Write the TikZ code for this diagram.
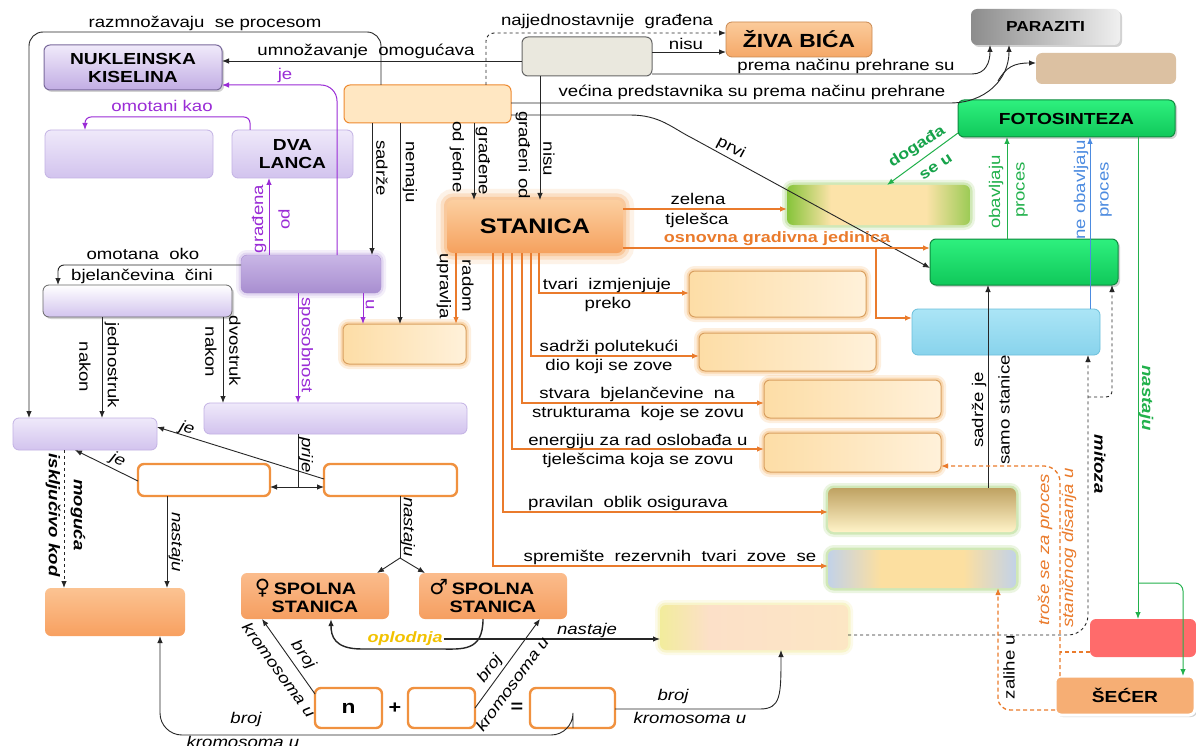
\documentclass[tikz,border=0pt]{standalone}
\usepackage{fontspec}
\setmainfont{Liberation Sans}[FakeStretch=1.2]
\newfontfamily\symfont{DejaVu Sans}
\usetikzlibrary{arrows.meta,shadows}
% connector and text colours
\definecolor{cOra}{HTML}{EA7B2C}
\definecolor{cPur}{HTML}{9A2CD6}
\definecolor{cGrn}{HTML}{22B14C}
\definecolor{cGrnD}{HTML}{16A34A}
\definecolor{cBlu}{HTML}{4C8BE0}
\definecolor{cYel}{HTML}{F2C200}
% box colours
\definecolor{nukT}{HTML}{F0EAFA}
\definecolor{nukD}{HTML}{C2ADE4}
\definecolor{nukB}{HTML}{7A6A9C}
\definecolor{pTop}{HTML}{EFE9FA}
\definecolor{pBot}{HTML}{D2C3EE}
\definecolor{pBrd}{HTML}{C3B2E4}
\definecolor{pdT}{HTML}{C9B6E6}
\definecolor{pdB}{HTML}{A88ED0}
\definecolor{topF}{HTML}{EAE8DE}
\definecolor{zivT}{HTML}{FBCB9B}
\definecolor{zivB}{HTML}{F5A868}
\definecolor{zivD}{HTML}{C98850}
\definecolor{tanF}{HTML}{DCC1A2}
\definecolor{c6F}{HTML}{FFE7C2}
\definecolor{c6B}{HTML}{EE8A30}
\definecolor{fotT}{HTML}{2EF07E}
\definecolor{fotB}{HTML}{10C85A}
\definecolor{fotD}{HTML}{0E8A3E}
\definecolor{chlL}{HTML}{86C43A}
\definecolor{chlM}{HTML}{FCE3A9}
\definecolor{chlR}{HTML}{9CCB55}
\definecolor{stT}{HTML}{FCCFA0}
\definecolor{stB}{HTML}{F5A15E}
\definecolor{stG}{HTML}{F6A861}
\definecolor{bluT}{HTML}{ABE5F6}
\definecolor{bluB}{HTML}{88D3EC}
\definecolor{bluD}{HTML}{6ABFDB}
\definecolor{bgL}{HTML}{FDDDA6}
\definecolor{bgR}{HTML}{FFF1DA}
\definecolor{bgB}{HTML}{D9A060}
\definecolor{bgG}{HTML}{F6B86E}
\definecolor{b21T}{HTML}{BFA262}
\definecolor{b21B}{HTML}{FFF3C8}
\definecolor{b22S}{HTML}{C2D2E8}
\definecolor{b22M}{HTML}{FCDFA0}
\definecolor{grG}{HTML}{A8D67A}
\definecolor{wbB}{HTML}{F0913F}
\definecolor{o27T}{HTML}{FBC392}
\definecolor{o27B}{HTML}{F8A060}
\definecolor{spT}{HTML}{FBBC8C}
\definecolor{spB}{HTML}{F59E60}
\definecolor{y30L}{HTML}{F2EC9C}
\definecolor{y30M}{HTML}{FCE0C8}
\definecolor{y30R}{HTML}{FCE6C4}
\definecolor{redF}{HTML}{FF6B6B}
\definecolor{secF}{HTML}{F6AE74}
% side-to-side fills (the visible part of a TikZ shading is 25bp..75bp)
\pgfdeclarehorizontalshading{chlsh}{100bp}{color(0bp)=(chlL); color(25bp)=(chlL); color(37bp)=(chlM); color(63bp)=(chlM); color(75bp)=(chlR); color(100bp)=(chlR)}
\pgfdeclarehorizontalshading{b22sh}{100bp}{color(0bp)=(b22S); color(25bp)=(b22S); color(39bp)=(b22M); color(61bp)=(b22M); color(75bp)=(b22S); color(100bp)=(b22S)}
\pgfdeclarehorizontalshading{y30sh}{100bp}{color(0bp)=(y30L); color(25bp)=(y30L); color(38bp)=(y30M); color(75bp)=(y30R); color(100bp)=(y30R)}
% a box given by its corners: name, x1, y1, x2, y2, style, text
\newcommand\bx[7]{\node[box,#6,minimum width={(#4-#2)*1pt},minimum height={(#5-#3)*1pt}] (#1) at ({(#2+#4)/2},{(#3+#5)/2}) {#7};}
\begin{document}
\begin{tikzpicture}[x=1pt,y=-1pt,
  box/.style={rounded corners=6pt, inner sep=0pt, outer sep=0pt, align=center},
  title/.style={font=\bfseries\fontsize{16}{18}\selectfont},
  lab/.style={font=\fontsize{15.5}{16}\selectfont, inner sep=0.5pt},
  ilab/.style={font=\fontsize{15.5}{16}\selectfont\itshape, inner sep=0.5pt},
  blab/.style={font=\fontsize{15.5}{16}\selectfont\bfseries\itshape, inner sep=0.5pt},
  arr/.style={-{Latex[length=7pt,width=5.5pt]}},
  kb/.style={draw=black!85, line width=0.9pt},
  oa/.style={draw=cOra, line width=1.3pt},
  pa/.style={draw=cPur, line width=1pt, arr},
  ga/.style={draw=cGrn, line width=1pt},
  ba/.style={draw=cBlu, line width=1pt},
  odash/.style={dash pattern=on 4pt off 3pt},
  glow/.style={preaction={draw=#1, draw opacity=0.22, line width=10pt},
               preaction={draw=#1, draw opacity=0.4, line width=5pt}},
  bigglow/.style={preaction={draw=#1, draw opacity=0.15, line width=22pt},
               preaction={draw=#1, draw opacity=0.25, line width=13pt},
               preaction={draw=#1, draw opacity=0.4, line width=6pt}},
  pl/.style={top color=pTop, bottom color=pBot, draw=pBrd, line width=0.8pt},
  bg/.style={left color=bgL, right color=bgR, draw=bgB, line width=1pt, glow=bgG},
  wb/.style={fill=white, draw=wbB, line width=2.4pt},
  sp/.style={top color=spT, bottom color=spB, font=\bfseries\fontsize{16.5}{18}\selectfont},
  shd/.style={drop shadow={opacity=0.35, shadow xshift=2pt, shadow yshift=-2pt}}
]
\fill[white] (0,0) rectangle (1196,746);
\useasboundingbox (0,0) rectangle (1196,746);

% ---------- boxes ----------
\bx{nuk}{44}{45}{222}{90}{top color=nukT, bottom color=nukD, draw=nukB, line width=1pt, shd, title}{NUKLEINSKA\\KISELINA}
\bx{top}{522}{37}{652}{76}{fill=topF, draw=black!60, line width=1pt}{}
\bx{ziva}{726}{22}{872}{57}{top color=zivT, bottom color=zivB, draw=zivD, line width=0.8pt, font=\bfseries\fontsize{19}{20}\selectfont}{ŽIVA BIĆA}
\bx{paraz}{971}{9}{1120}{45}{left color=black!45, right color=black!6, shd, font=\bfseries\fontsize{14.5}{16}\selectfont}{PARAZITI}
\bx{tan}{1036}{53}{1176}{84}{fill=tanF}{}
\bx{c6}{344}{85}{511}{123}{fill=c6F, draw=c6B, line width=1pt}{}
\bx{foto}{958}{100}{1175}{137}{top color=fotT, bottom color=fotB, draw=fotD, line width=1pt, shd, title}{FOTOSINTEZA}
\bx{p8}{45}{130}{213}{178}{pl}{}
\bx{dva}{232}{130}{353}{178}{pl, title}{DVA\\LANCA}
\bx{chl}{787}{185}{970}{225}{shading=chlsh, glow=grG}{}
\bx{stan}{447}{200}{623}{253}{top color=stT, bottom color=stB, bigglow=stG, font=\bfseries\fontsize{21}{22}\selectfont}{STANICA}
\bx{grn}{930}{239}{1118}{285}{top color=fotT, bottom color=fotB, draw=fotD, line width=1pt, shd}{}
\bx{pd}{241}{255}{381}{293}{top color=pdT, bottom color=pdB, draw=pdB, glow=pdT}{}
\bx{p14}{43}{285}{232}{317}{top color=white, bottom color=pBot, draw=black!60, line width=0.8pt, shd}{}
\bx{blue}{912}{309}{1100}{355}{top color=bluT, bottom color=bluB, draw=bluD, line width=0.8pt}{}
\bx{b16}{343}{324}{466}{364}{bg}{}
\bx{b17}{689}{271}{866}{317}{bg}{}
\bx{b18}{699}{333}{876}{371}{bg}{}
\bx{b19}{764}{380}{941}{418}{bg}{}
\bx{b20}{764}{433}{941}{472}{bg}{}
\bx{b21}{828}{488}{1016}{532}{top color=b21T, bottom color=b21B, glow=grG}{}
\bx{b22}{828}{550}{1016}{588}{shading=b22sh, glow=grG}{}
\bx{p23}{13}{418}{157}{450}{pl}{}
\bx{p24}{204}{403}{467}{434}{pl}{}
\bx{w25}{138}{464}{270}{496}{wb}{}
\bx{w26}{324}{464}{457}{496}{wb}{}
\bx{o27}{45}{588}{185}{636}{top color=o27T, bottom color=o27B}{}
\bx{fem}{241}{573}{389}{619}{sp}{\llap{\symfont\mdseries\fontsize{21}{21}\selectfont ♀\,}SPOLNA\\STANICA}
\bx{mal}{419}{573}{567}{619}{sp}{\llap{\symfont\mdseries\fontsize{21}{21}\selectfont ♂\,}SPOLNA\\STANICA}
\bx{y30}{660}{605}{848}{650}{shading=y30sh, glow=y30L}{}
\bx{red}{1090}{619}{1196}{657}{fill=redF}{}
\bx{sec}{1055}{676}{1195}{715}{fill=secF, draw=white, line width=3pt, shd, title}{ŠEĆER}
\bx{nb}{315}{688}{382}{728}{wb, font=\bfseries\fontsize{19}{20}\selectfont}{n}
\bx{pb}{408}{688}{475}{728}{wb}{}
\bx{eb}{530}{688}{615}{728}{wb}{}
\node[font=\bfseries\fontsize{18}{18}\selectfont] (plus) at (395,708) {+};
\node[font=\bfseries\fontsize{18}{18}\selectfont] (eq) at (517,708) {=};

% ---------- upper left ----------
\draw[kb, arr, rounded corners=14pt] (381,0 |- c6.north) -- (381,32) -- (29,32) -- (29,0 |- p23.north);
\node[lab] (t1) at (205,23) {razmnožavaju\ \ se procesom};
\draw[kb, arr] (top.west |- 0,61) -- (nuk.east |- 0,61);
\node[lab] (t2) at (366,51) {umnožavanje\ \ omogućava};
\draw[kb, arr, dashed, rounded corners=8pt] (486,0 |- c6.north) -- (486,33) -- (ziva.west |- 0,33);
\node[lab] (t3) at (607,21) {najjednostavnije\ \ građena};
\draw[kb, arr] (top.east |- 0,52) -- (ziva.west |- 0,52);
\node[lab] (t4) at (686,44) {nisu};
\draw[kb, arr] (top.east |- 0,74) -- (972,74) .. controls (986,74) and (990,62) .. (990,0 |- paraz.south);
\node[lab] (t5) at (846,66) {prema\ načinu\ prehrane su};
\draw[kb, arr] (c6.east |- 0,103) -- (950,103) .. controls (985,103) and (1009,80) .. (1009,0 |- paraz.south);
\draw[kb, arr] (998,81) .. controls (1006,67) and (1014,63) .. (tan.west |- 0,63);
\node[lab] (t6) at (752,92) {većina\ predstavnika su prema načinu\ prehrane};

\draw[pa, rounded corners=16pt] (337,0 |- pd.north) -- (337,85) -- (nuk.east |- 0,85);
\node[lab, text=cPur] (t7) at (285,75) {je};
\draw[pa, rounded corners=6pt] (250,0 |- dva.north) -- (250,117) -- (85,117) -- (85,0 |- p8.north);
\node[lab, text=cPur] (t8) at (162,106) {omotani\ kao};
\draw[pa] (269,0 |- pd.north) -- (269,0 |- dva.south);
\node[lab, text=cPur, rotate=90] (t9) at (259,219) {građena};
\node[lab, text=cPur, rotate=90] (t10) at (284,219) {od};

\draw[kb, arr] (372,0 |- c6.south) -- (372,0 |- pd.north);
\node[lab, rotate=-90] (t11) at (382,168) {sadrže};
\draw[kb, arr] (400,0 |- c6.south) -- (400,0 |- b16.north);
\node[lab, rotate=-90] (t12) at (410,172) {nemaju};
\draw[kb, arr] (474,0 |- c6.south) -- (474,0 |- stan.north);
\node[lab, rotate=-90] (t13) at (483,161) {građene};
\node[lab, rotate=-90] (t14) at (457,157) {od jedne};
\draw[kb, arr] (540,0 |- top.south) -- (540,0 |- stan.north);
\node[lab, rotate=-90] (t15) at (523,155) {građeni od};
\node[lab, rotate=-90] (t16) at (549,159) {nisu};

\draw[kb, arr] (c6.east |- 0,115) -- (630,115) .. controls (660,115) and (672,128) .. (692,138) -- (grn.west |- 0,268);
\node[lab, rotate=-28] (t17) at (731,148) {prvi};

% ---------- STANICA and its parts ----------
\draw[oa, arr] (stan.east |- 0,209) -- (chl.west |- 0,209);
\node[lab] (t18) at (698,199) {zelena};
\node[lab] (t19) at (697,220) {tjelešca};
\draw[oa, arr] (stan.east |- 0,248) -- (grn.west |- 0,248);
\draw[oa, arr] (876,248) -- (876,318) -- (blue.west |- 0,318);
\node[lab, font=\fontsize{15}{16}\selectfont\bfseries, text=cOra] (t20) at (777,239) {osnovna gradivna jedinica};

\draw[oa, arr] (539,0 |- stan.south) -- (539,293) -- (b17.west |- 0,293);
\node[lab] (t21) at (607,285) {tvari\ \ izmjenjuje};
\node[lab] (t22) at (608,304) {preko};
\draw[oa, arr] (531,0 |- stan.south) -- (531,356) -- (b18.west |- 0,356);
\node[lab] (t23) at (609,347) {sadrži polutekući};
\node[lab] (t24) at (609,366) {dio koji se zove};
\draw[oa, arr] (522,0 |- stan.south) -- (522,403) -- (b19.west |- 0,403);
\node[lab] (t25) at (637,394) {stvara\ \ bjelančevine\ \ na};
\node[lab] (t26) at (638,413) {strukturama\ \ koje se zovu};
\draw[oa, arr] (512,0 |- stan.south) -- (512,449) -- (b20.west |- 0,449);
\node[lab] (t27) at (638,441) {energiju\ za\ rad\ oslobađa\ u};
\node[lab] (t28) at (638,460) {tjelešcima\ koja\ se\ zovu};
\draw[oa, arr] (503,0 |- stan.south) -- (503,512) -- (b21.west |- 0,512);
\node[lab] (t29) at (628,503) {pravilan\ \ oblik\ osigurava};
\draw[oa, arr] (493,0 |- stan.south) -- (493,566) -- (b22.west |- 0,566);
\node[lab] (t30) at (670,557) {spremište\ \ rezervnih\ \ tvari\ \ zove\ \ se};
\draw[oa, arr] (456,0 |- stan.south) -- (456,0 |- b16.north);
\node[lab, rotate=-90] (t31) at (444,286) {upravlja};
\node[lab, rotate=-90] (t32) at (468,286) {radom};

% ---------- middle left ----------
\draw[kb, arr, rounded corners=6pt] (pd.west |- 0,265) -- (58,265) -- (58,0 |- p14.north);
\node[lab] (t33) at (143,254) {omotana\ \ oko};
\node[lab] (t34) at (142,276) {bjelančevina\ \ čini};
\draw[pa] (363,0 |- pd.south) -- (363,0 |- b16.north);
\node[lab, text=cPur, rotate=-90] (t35) at (370,305) {u};
\draw[pa] (298,0 |- pd.south) -- (298,0 |- p24.north);
\node[lab, text=cPur, rotate=-90] (t36) at (306,345) {sposobnost};
\draw[kb, arr] (102,0 |- p14.south) -- (102,0 |- p23.north);
\node[lab, rotate=-90] (t37) at (112,365) {jednostruk};
\node[lab, rotate=-90] (t38) at (85,367) {nakon};
\draw[kb, arr] (223,0 |- p14.south) -- (223,0 |- p24.north);
\node[lab, rotate=-90] (t39) at (235,351) {dvostruk};
\node[lab, rotate=-90] (t40) at (211,352) {nakon};

\draw[kb] (298,0 |- p24.south) -- (298,487) coordinate (pj);
\draw[kb, arr] (pj) -- (w25.east |- 0,487);
\draw[kb, arr] (pj) -- (w26.west |- 0,487);
\node[ilab, rotate=-90] (t41) at (306,455) {prije};
\draw[kb, arr] (w25.west |- 0,481) -- (75,0 |- p23.south);
\node[ilab, rotate=-25] (t42) at (118,460) {je};
\draw[kb, arr] (w26.west |- 0,479) -- (p23.east |- 0,427);
\node[ilab, rotate=-17] (t43) at (187,429) {je};
\draw[kb, arr, dashed] (64,0 |- p23.south) -- (64,0 |- o27.north);
\node[blab, rotate=-90] (t44) at (78,515) {moguća};
\node[blab, rotate=-90] (t45) at (53,515) {isključivo kod};
\draw[kb, arr] (167,0 |- w25.south) -- (167,0 |- o27.north);
\node[ilab, rotate=-90] (t46) at (176,542) {nastaju};
\draw[kb] (400,0 |- w26.south) -- (400,558) coordinate (ns);
\draw[kb, arr] (ns) -- (377,0 |- fem.north);
\draw[kb, arr] (ns) -- (425,0 |- mal.north);
\node[ilab, rotate=-90] (t47) at (408,527) {nastaju};

% ---------- bottom ----------
\node[font=\fontsize{15}{16}\selectfont\bfseries\itshape, text=cYel, inner sep=1pt] (opl) at (405,639) {oplodnja};
\draw[kb, arr, line width=1.4pt] (483,0 |- mal.south) .. controls (483,652) and (462,649) .. (440,649) -- (362,649) .. controls (334,649) and (331,636) .. (331,0 |- fem.south);
\draw[kb, arr, line width=1.1pt] (opl.east) -- (y30.west |- 0,639);
\node[ilab] (t48) at (587,630) {nastaje};

\draw[kb, arr] (nb.west |- 0,694) -- (262,0 |- fem.south);
\node[ilab, rotate=-54] (t49) at (303,655) {broj};
\node[ilab, rotate=-54] (t50) at (279,670) {kromosoma u};
\draw[kb, arr] (pb.east |- 0,708) -- (540,0 |- mal.south);
\node[ilab, rotate=54] (t51) at (490,669) {broj};
\node[ilab, rotate=54] (t52) at (512,684) {kromosoma u};
\draw[kb, arr] (eb.east |- 0,709) -- (760,709) .. controls (781,709) and (781,695) .. (781,0 |- y30.south);
\node[ilab] (t53) at (673,696) {broj};
\node[ilab] (t54) at (690,718) {kromosoma u};
\draw[kb, arr, rounded corners=22pt] (573,0 |- eb.south) -- (573,735) -- (160,735) -- (160,0 |- o27.south);
\node[ilab] (t55) at (246,719) {broj};
\node[ilab] (t56) at (243,742) {kromosoma u};

% ---------- right side ----------
\draw[ga, arr] (foto.west |- 0,133) -- (887,0 |- chl.north);
\node[lab, font=\fontsize{15}{16}\selectfont\bfseries, text=cGrnD, rotate=33] (t57) at (917,147) {događa};
\node[lab, font=\fontsize{15}{16}\selectfont\bfseries, text=cGrnD, rotate=33] (t58) at (936,167) {se u};
\draw[ga, arr] (1007,0 |- grn.north) -- (1007,0 |- foto.south);
\node[lab, text=cGrn, rotate=90] (t59) at (996,192) {obavljaju};
\node[lab, text=cGrn, rotate=90] (t60) at (1022,190) {proces};
\draw[ba, arr] (1090,0 |- blue.north) -- (1090,0 |- foto.south);
\node[lab, text=cBlu, rotate=90] (t61) at (1081,190) {ne obavljaju};
\node[lab, text=cBlu, rotate=90] (t62) at (1106,190) {proces};
\draw[ga, arr] (1138,0 |- foto.south) -- (1138,0 |- red.north);
\draw[ga, arr, rounded corners=8pt] (1138,583) -- (1183,583) -- (1183,0 |- sec.north);
\node[blab, text=cGrn, rotate=-90] (t63) at (1146,398) {nastaju};

\draw[kb, arr] (988,0 |- b21.north) -- (988,0 |- grn.south);
\node[lab, rotate=90] (t64) at (979,410) {sadrže je};
\node[lab, rotate=90] (t65) at (1004,410) {samo stanice};

\draw[kb, arr, dashed, rounded corners=20pt] (y30.east |- 0,635) -- (1088,635) -- (1088,0 |- blue.south);
\draw[kb, arr, dashed, rounded corners=6pt] (1088,397) -- (1112,397) -- (1112,0 |- grn.south);
\node[blab, rotate=-90] (t66) at (1100,464) {mitoza};

\draw[oa, odash, arr, rounded corners=16pt] (1060,0 |- sec.north) -- (1060,466) -- (b20.east |- 0,466);
\draw[oa, odash] (red.west |- 0,652) -- (1060,652);
\node[ilab, text=cOra, rotate=90] (t67) at (1045,550) {troše se za proces};
\node[ilab, text=cOra, rotate=90, fill=white] (t68) at (1069,548) {staničnog disanja u};
\draw[oa, odash, arr, rounded corners=12pt] (sec.west |- 0,710) -- (998,710) -- (998,0 |- b22.south);
\node[lab, rotate=90] (t69) at (1009,667) {zalihe u};
\end{tikzpicture}
\end{document}
